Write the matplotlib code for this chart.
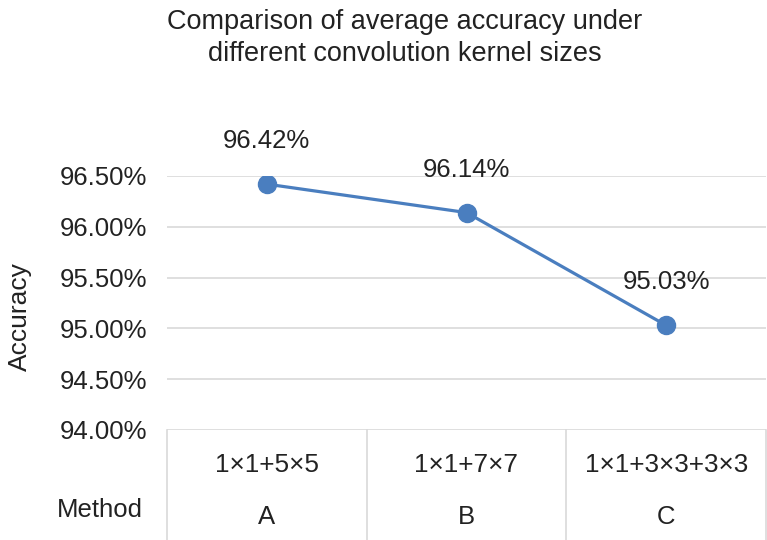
import numpy as np
import matplotlib.pyplot as plt
from matplotlib.ticker import FuncFormatter

plt.rcParams['font.family'] = ['Liberation Sans', 'DejaVu Sans']

kernels = ['1×1+5×5', '1×1+7×7', '1×1+3×3+3×3']
methods = ['A', 'B', 'C']
accuracy = [96.42, 96.14, 95.03]
yticks = [94.0, 94.5, 95.0, 95.5, 96.0, 96.5]

line_col = '#4A7EBF'
grid_col = '#D9D9D9'
text_col = '#222222'

fig = plt.figure(figsize=(7.67, 5.4), dpi=100)
ax = fig.add_axes([167/767, 1 - 430/540, 599/767, 254/540])

x = np.arange(len(accuracy))
ax.plot(x, accuracy, color=line_col, lw=2.3, marker='o', ms=13, zorder=3)
for xi, v in zip(x, accuracy):
    ax.annotate('{:.2f}%'.format(v), (xi, v), xytext=(0, 31), textcoords='offset points',
                ha='center', va='center', fontsize=18.5, color=text_col)

ax.set_xlim(-0.5, len(accuracy) - 0.5)
ax.set_ylim(94.0, 96.5)
ax.set_yticks(yticks)
ax.yaxis.set_major_formatter(FuncFormatter(lambda v, p: '{:.2f}%'.format(v)))
ax.tick_params(axis='y', length=0, pad=14, labelsize=18.5, labelcolor=text_col)
ax.set_xticks([])
ax.grid(axis='y', color=grid_col, lw=1.2)
ax.set_axisbelow(True)
for s in ax.spines.values():
    s.set_visible(False)

# category table below the axis
tr = ax.get_xaxis_transform()
bot = -110/254
for xb in np.arange(len(accuracy) + 1) - 0.5:
    ax.plot([xb, xb], [0, bot], color=grid_col, lw=1.2, transform=tr, clip_on=False)
for xi, k, m in zip(x, kernels, methods):
    ax.text(xi, -35/254, k, transform=tr, ha='center', va='center', fontsize=18.8, color=text_col)
    ax.text(xi, -87/254, m, transform=tr, ha='center', va='center', fontsize=18.5, color=text_col)
fig.text(100/767, 1 - 510/540, 'Method', ha='center', va='center', fontsize=18.5, color=text_col)

fig.text(20/767, 1 - 317/540, 'Accuracy', rotation=90, ha='center', va='center', fontsize=19, color=text_col)
fig.text(405/767, 1 - 38/540, 'Comparison of average accuracy under\ndifferent convolution kernel sizes',
         ha='center', va='center', fontsize=19.5, color=text_col, linespacing=1.3)

fig.savefig('out.png', dpi=100)
